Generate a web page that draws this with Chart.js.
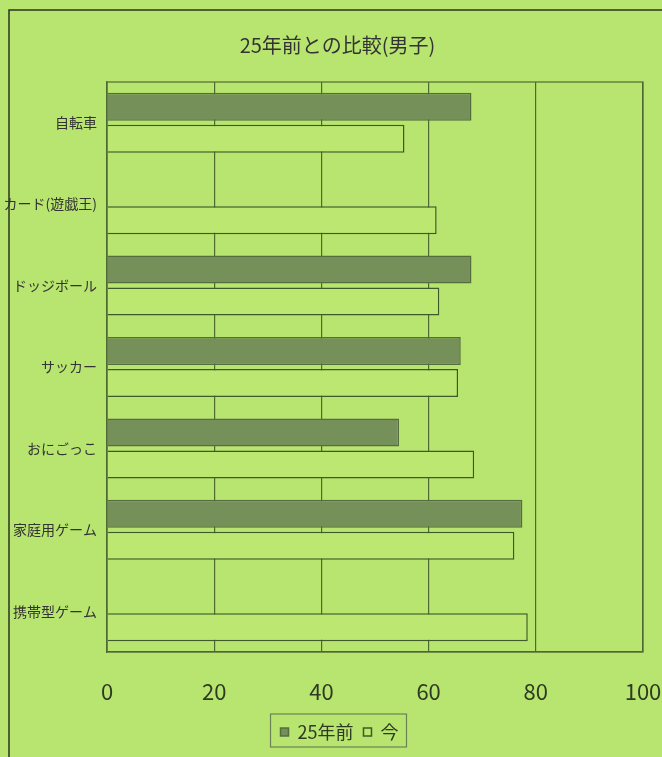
<!DOCTYPE html>
<html>
<head>
<meta charset="utf-8">
<script src="https://cdn.jsdelivr.net/npm/chart.js@4/dist/chart.umd.min.js"></script>
<style>
  html, body { margin: 0; padding: 0; background: #b8e56f; }
  #wrap { width: 662px; height: 757px; position: relative; }
</style>
</head>
<body>
<div id="wrap"><canvas id="c" width="662" height="757"></canvas></div>
<script>
const titleText = '25年前との比較(男子)';
const categories = ['自転車', 'カード(遊戯王)', 'ドッジボール', 'サッカー', 'おにごっこ', '家庭用ゲーム', '携帯型ゲーム'];
const seriesNames = ['25年前', '今'];
const before25 = [68, null, 68, 66, 54.5, 77.5, null];
const nowValues = [55.5, 61.5, 62, 65.5, 68.5, 76, 78.5];
const xTicks = [0, 20, 40, 60, 80, 100];

const BG = '#b8e56f';
const INK = '#2e3a22';
const LINE = '#4d6a32';
const FONT = "'Liberation Sans Narrow', 'Noto Sans CJK JP', sans-serif";

const framePlugin = {
  id: 'frame',
  afterLayout(chart) {
    if (chart.titleBlock) { chart.titleBlock.left += 16; chart.titleBlock.right += 16; }
    if (chart.legend) { chart.legend.left += 18; chart.legend.right += 18; }
  },
  beforeDraw(chart) {
    const ctx = chart.ctx;
    ctx.save();
    ctx.fillStyle = BG;
    ctx.fillRect(0, 0, chart.width, chart.height);
    ctx.strokeStyle = '#2a3320';
    ctx.lineWidth = 1.5;
    ctx.beginPath();
    ctx.moveTo(9, chart.height);
    ctx.lineTo(9, 10);
    ctx.lineTo(chart.width, 10);
    ctx.stroke();
    ctx.restore();
  },
  afterDatasetsDraw(chart) {
    const a = chart.chartArea;
    const ctx = chart.ctx;
    ctx.save();
    ctx.strokeStyle = LINE;
    ctx.lineWidth = 1.2;
    ctx.strokeRect(a.left, a.top, a.right - a.left, a.bottom - a.top);
    ctx.restore();
  },
  afterDraw(chart) {
    const lg = chart.legend;
    if (!lg || !lg.legendHitBoxes || !lg.legendHitBoxes.length) return;
    const hb = lg.legendHitBoxes;
    const first = hb[0], last = hb[hb.length - 1];
    const ctx = chart.ctx;
    ctx.save();
    ctx.strokeStyle = '#6b8455';
    ctx.lineWidth = 1.2;
    const x0 = first.left - 10, x1 = last.left + last.width + 8;
    const y0 = first.top - 9, y1 = first.top + first.height + 6;
    ctx.strokeRect(x0, y0, x1 - x0, y1 - y0);
    ctx.restore();
  }
};

new Chart(document.getElementById('c'), {
  type: 'bar',
  data: {
    labels: categories,
    datasets: [
      {
        label: seriesNames[0],
        data: before25,
        backgroundColor: '#76905a',
        borderColor: '#556d3c',
        borderWidth: 1.5,
        categoryPercentage: 0.786,
        barPercentage: 0.875
      },
      {
        label: seriesNames[1],
        data: nowValues,
        backgroundColor: '#bce872',
        borderColor: '#3e5a2a',
        borderWidth: 1.5,
        categoryPercentage: 0.786,
        barPercentage: 0.875
      }
    ]
  },
  options: {
    indexAxis: 'y',
    responsive: false,
    animation: false,
    devicePixelRatio: 1,
    layout: { padding: { left: 0, right: 19, top: 0, bottom: 6 } },
    scales: {
      x: {
        min: 0, max: 100,
        afterBuildTicks(scale) { scale.ticks = xTicks.map(v => ({ value: v })); },
        afterFit(scale) { scale.height = 61; scale.paddingLeft = 0; scale.paddingRight = 0; },
        grid: { color: LINE, lineWidth: 1.2, drawTicks: false },
        border: { display: true, color: LINE, width: 1.2 },
        ticks: {
          padding: 26,
          color: INK,
          font: { family: FONT, size: 22 }
        }
      },
      y: {
        afterFit(scale) { scale.width = 107; },
        grid: { display: false, drawTicks: false },
        border: { display: true, color: LINE, width: 1.2 },
        ticks: {
          padding: 10,
          color: '#333333',
          font: { family: FONT, size: 14 }
        }
      }
    },
    plugins: {
      title: {
        display: true,
        text: titleText,
        color: '#333333',
        font: { family: FONT, size: 20, weight: 'normal' },
        padding: { top: 33, bottom: 25 }
      },
      legend: {
        position: 'bottom',
        labels: {
          color: INK,
          font: { family: FONT, size: 18 },
          boxWidth: 8,
          boxHeight: 8,
          padding: 10
        }
      },
      tooltip: { enabled: false }
    }
  },
  plugins: [framePlugin]
});
</script>
</body>
</html>
